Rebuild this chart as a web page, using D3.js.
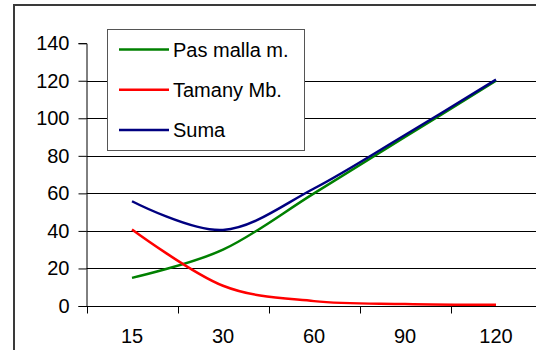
<!DOCTYPE html>
<html>
<head>
<meta charset="utf-8">
<script src="https://cdn.jsdelivr.net/npm/d3@7"></script>
<style>
  body { margin: 0; background: #fff; }
  text { font-family: "Liberation Sans", Arial, sans-serif; fill: #000; }
</style>
</head>
<body>
<svg id="chart" width="536" height="350"></svg>
<script>
'use strict';

const categories = ["15", "30", "60", "90", "120"];
const pasMalla = [15, 30, 60, 90, 120];
const tamany = [40.8, 10.8, 2.6, 1.1, 0.6];
const suma = [55.8, 40.5, 62.6, 91.1, 120.6];
const yTicks = [0, 20, 40, 60, 80, 100, 120, 140];

const seriesNames = ["Pas malla m.", "Tamany Mb.", "Suma"];
const seriesColors = ["#008000", "#ff0000", "#000080"];


const svg = d3.select("#chart");

// chart area frame, cut by the window on the right and bottom
svg.append("rect")
  .attr("x", 14)
  .attr("y", 5)
  .attr("width", 600)
  .attr("height", 400)
  .attr("fill", "none")
  .attr("stroke", "#3a3a3a")
  .attr("stroke-width", 2);

const x = d3.scaleBand()
  .domain(categories)
  .range([86.5, 86.5 + 91 * categories.length]);

const y = d3.scaleLinear()
  .domain([0, 140])
  .range([306, 43.2]);

// gridlines (no line at the top value)
svg.append("g")
  .selectAll("line")
  .data(yTicks.filter(t => t > 0 && t < 140))
  .enter()
  .append("line")
  .attr("x1", x.range()[0])
  .attr("x2", x.range()[1])
  .attr("y1", d => Math.round(y(d)) + 0.5)
  .attr("y2", d => Math.round(y(d)) + 0.5)
  .attr("stroke", "#000")
  .attr("stroke-width", 1);

const yAxis = svg.append("g")
  .attr("transform", "translate(86.5,0)")
  .call(d3.axisLeft(y).tickValues(yTicks).tickSize(8).tickPadding(9));

const xAxis = svg.append("g")
  .attr("transform", "translate(0,306.5)")
  .call(d3.axisBottom(x).tickSize(0).tickPadding(22));

// x ticks sit between categories
xAxis.selectAll(".sep")
  .data(d3.range(categories.length + 1))
  .enter()
  .append("line")
  .attr("class", "sep")
  .attr("x1", i => Math.round(x.range()[0] + i * x.step()) + 0.5)
  .attr("x2", i => Math.round(x.range()[0] + i * x.step()) + 0.5)
  .attr("y1", 0)
  .attr("y2", 7)
  .attr("stroke", "#000");

[yAxis, xAxis].forEach(a => {
  a.selectAll("path.domain").attr("stroke", "#000");
  a.selectAll("line").attr("stroke", "#000");
  a.selectAll("text")
    .attr("font-size", 20)
    .attr("font-family", "'Liberation Sans', Arial, sans-serif")
    .attr("fill", "#000");
});
xAxis.select("path.domain").attr("d", "M" + x.range()[0] + ",0H" + x.range()[1]);

const line = d3.line()
  .x((d, i) => x(categories[i]) + x.bandwidth() / 2)
  .y(d => y(d))
  .curve(d3.curveCardinal.tension(0));

const series = [pasMalla, tamany, suma];

svg.append("g")
  .selectAll("path")
  .data(series)
  .enter()
  .append("path")
  .attr("d", d => line(d))
  .attr("fill", "none")
  .attr("stroke", (d, i) => seriesColors[i])
  .attr("stroke-width", 2.5)
  .attr("stroke-linejoin", "round");

// legend
const legend = svg.append("g");

legend.append("rect")
  .attr("x", 107.5)
  .attr("y", 29.5)
  .attr("width", 197)
  .attr("height", 121)
  .attr("fill", "#fff")
  .attr("stroke", "#555")
  .attr("stroke-width", 1);

const rows = legend.selectAll("g.row")
  .data(seriesNames)
  .enter()
  .append("g")
  .attr("class", "row")
  .attr("transform", (d, i) => "translate(0," + (49.5 + i * 40.3) + ")");

rows.append("line")
  .attr("x1", 119)
  .attr("x2", 169)
  .attr("stroke", (d, i) => seriesColors[i])
  .attr("stroke-width", 2.5);

rows.append("text")
  .attr("x", 173)
  .attr("dy", "0.36em")
  .attr("font-size", 20)
  .text(d => d);
</script>
</body>
</html>
